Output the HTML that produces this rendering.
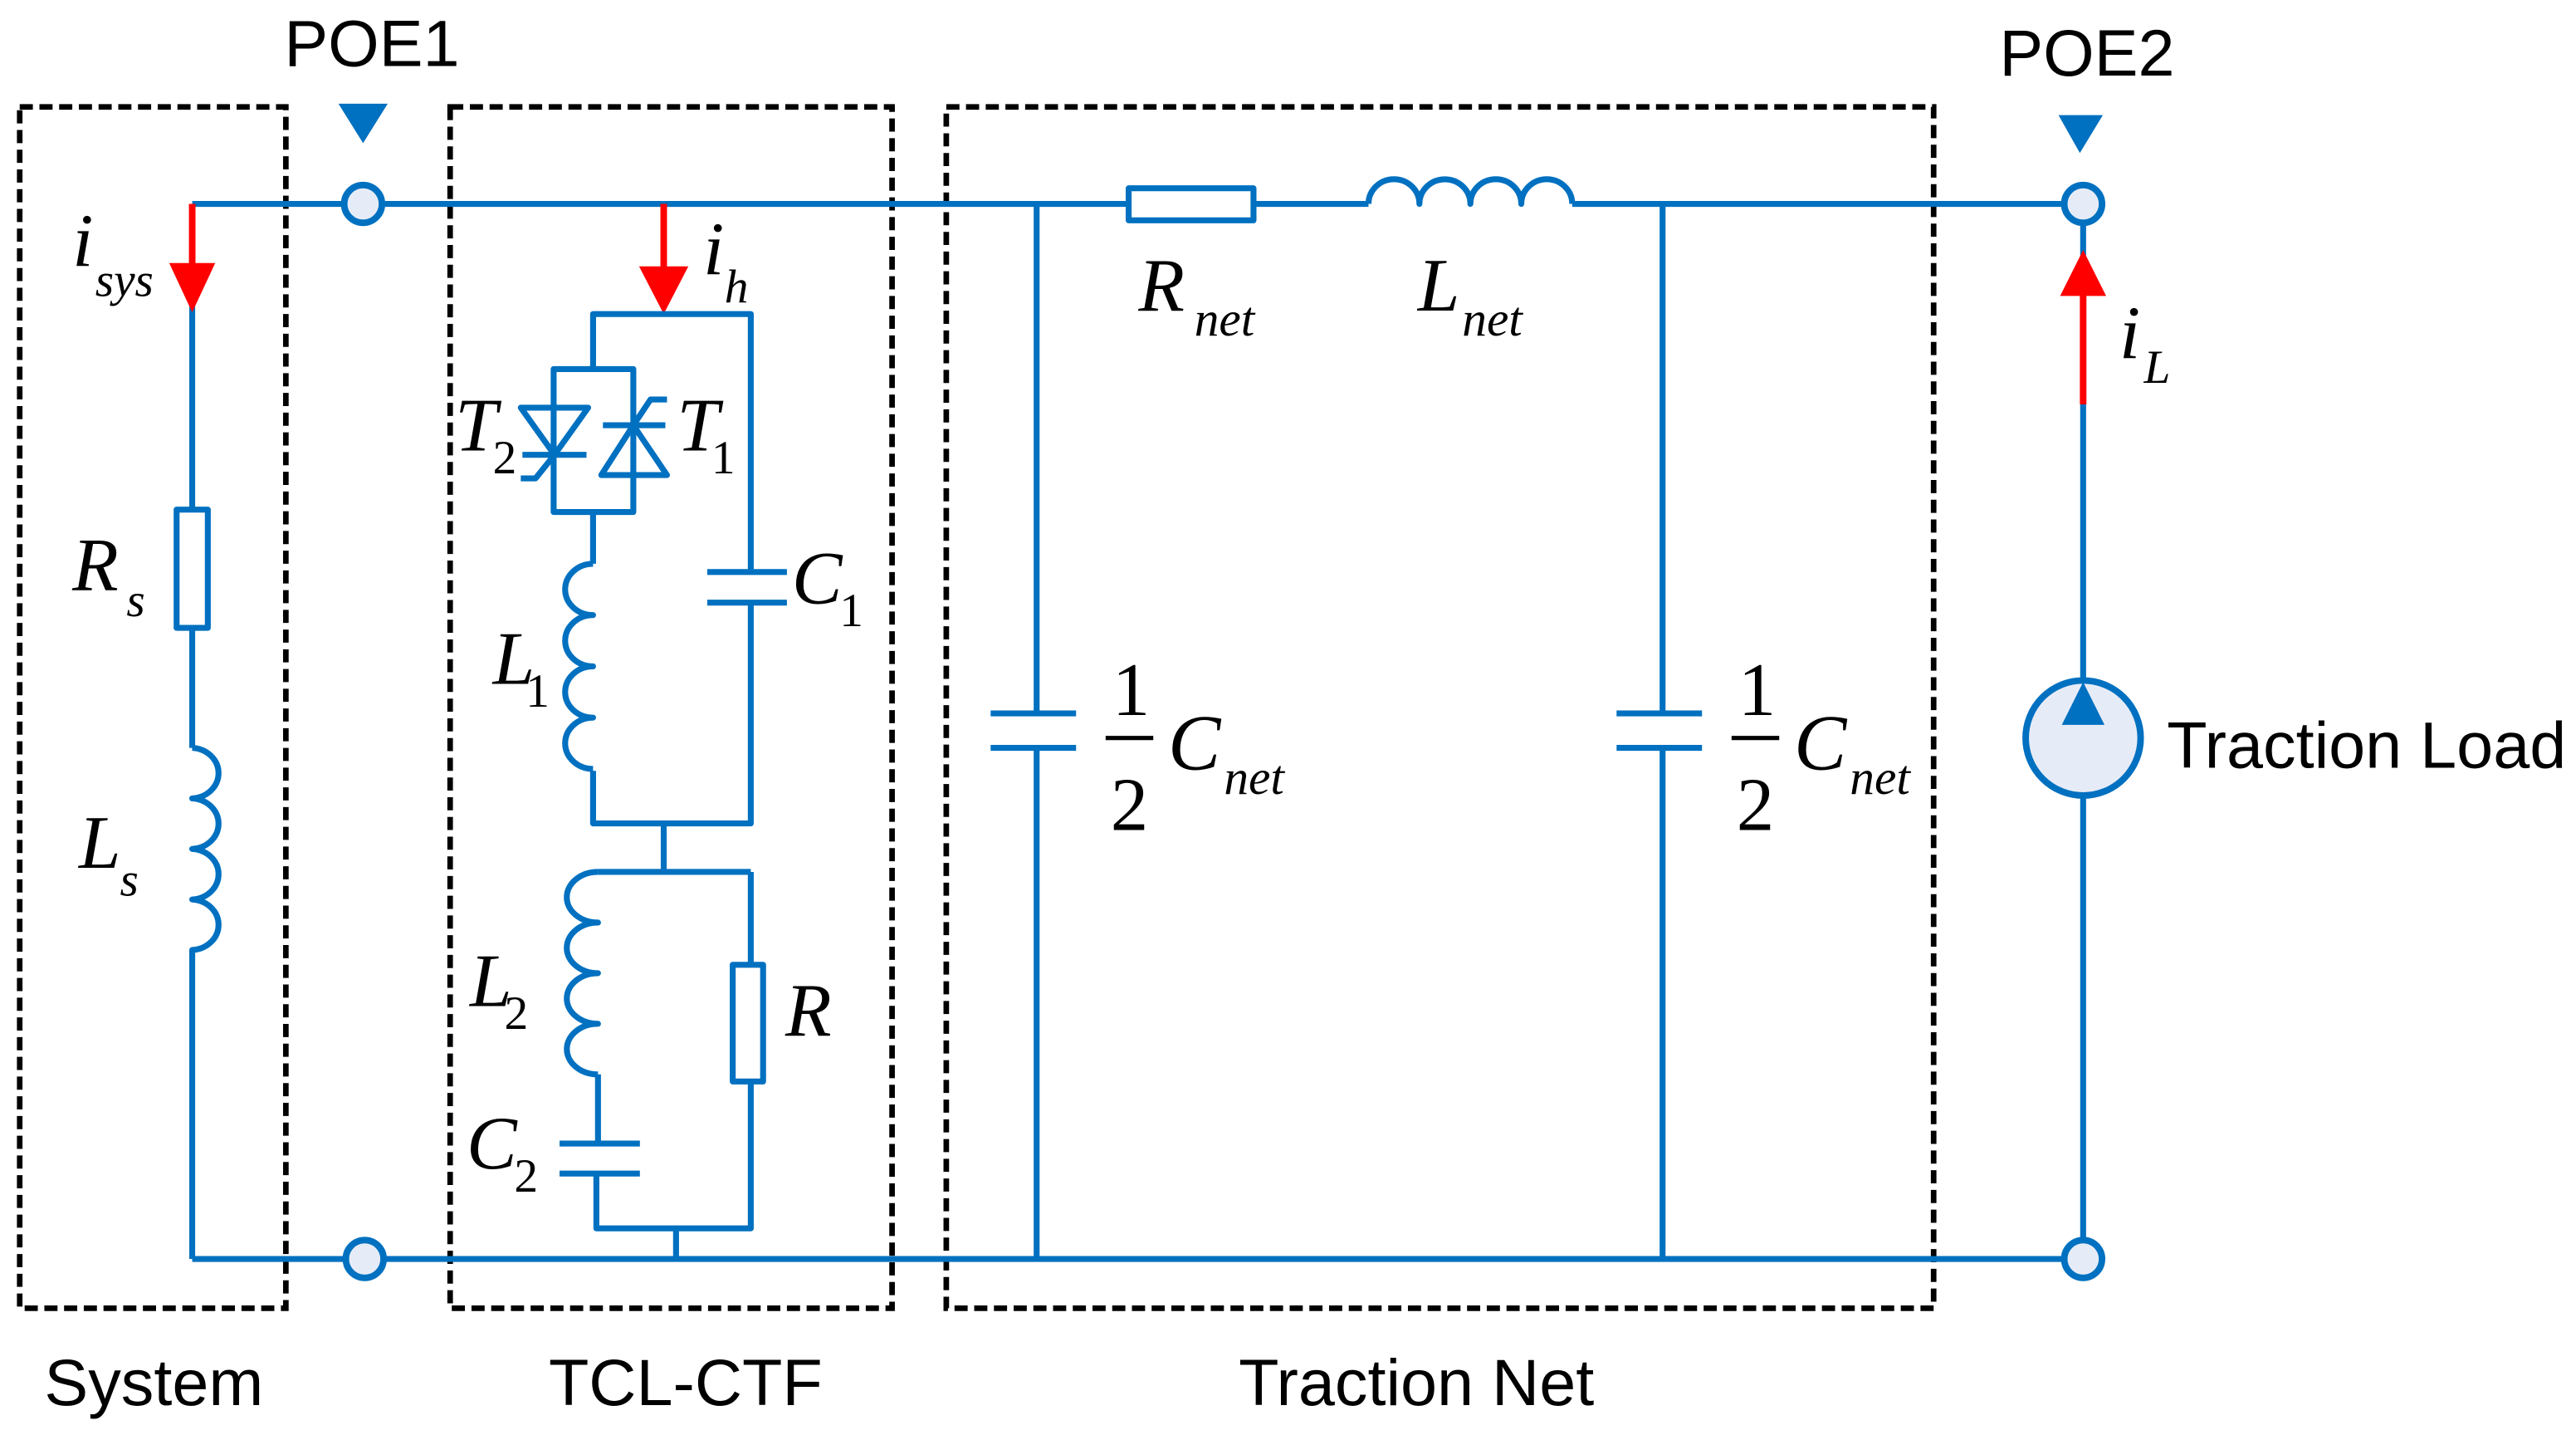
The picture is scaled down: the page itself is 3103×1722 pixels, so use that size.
<!DOCTYPE html>
<html><head><meta charset="utf-8"><style>
html,body{margin:0;padding:0;background:#fff}
svg{display:block}
.w{stroke:#0070C0;stroke-width:3.6;fill:none;stroke-linejoin:round}
.d{stroke:#000;stroke-width:3.4;fill:none;stroke-dasharray:8,4}
.it{font-family:"Liberation Serif",serif;font-style:italic;fill:#000}
.rm{font-family:"Liberation Serif",serif;fill:#000}
.sn{font-family:"Liberation Sans",sans-serif;fill:#000}
</style></head><body>
<svg width="3103" height="1722" viewBox="0 0 1568 870" xmlns="http://www.w3.org/2000/svg">
<rect class="d" x="12" y="65" width="162" height="731"/>
<rect class="d" x="274" y="65" width="269" height="731"/>
<rect class="d" x="576" y="65" width="601" height="731"/>

<path class="w" d="M117,124 H687 M763,124 H833 M957,124 H1268"/>
<path class="w" d="M117,766 H1268"/>

<path class="w" d="M117,124 V310 M117,382 V455"/>
<rect class="w" x="107.5" y="310" width="19" height="72"/>
<path class="w" d="M117,455 a17,15.4 0 0 1 0,30.75 a17,15.4 0 0 1 0,30.75 a17,15.4 0 0 1 0,30.75 a17,15.4 0 0 1 0,30.75 V766"/>
<path d="M117,124 V162" stroke="#FF0000" stroke-width="4" fill="none"/>
<polygon points="103,160 131,160 117,190" fill="#FF0000"/>

<circle cx="221" cy="124" r="11.5" fill="#E6ECF7" stroke="#0070C0" stroke-width="4"/>
<circle cx="222" cy="766" r="11.5" fill="#E6ECF7" stroke="#0070C0" stroke-width="4"/>
<polygon points="206,63 236,63 221,87" fill="#0070C0"/>
<circle cx="1268" cy="124" r="11.5" fill="#E6ECF7" stroke="#0070C0" stroke-width="4"/>
<circle cx="1268" cy="766" r="11.5" fill="#E6ECF7" stroke="#0070C0" stroke-width="4"/>
<polygon points="1253,70 1280,70 1266,93" fill="#0070C0"/>

<path d="M404,124 V165" stroke="#FF0000" stroke-width="4" fill="none"/>
<polygon points="389,162 419,162 404,191" fill="#FF0000"/>
<path class="w" d="M361,224 V191 H457 V348 M457,367 V501 H361 V469"/>
<path class="w" d="M337,311.5 V224.5 H385.5 V311.5 Z"/>
<path class="w" d="M361,311.5 V343"/>
<path class="w" d="M361,343 a17,15.6 0 0 0 0,31.2 a17,15.6 0 0 0 0,31.2 a17,15.6 0 0 0 0,31.2 a17,15.6 0 0 0 0,31.2"/>
<path class="w" d="M430.5,348 H479 M430.5,366.6 H479"/>
<path class="w" d="M317,248 H358 L337.5,276.7 Z M318,276.7 H357 M337.5,276.7 L326,291 H317"/>
<path class="w" d="M366,289 H406 L385.5,258.7 Z M367,258.7 H405 M385.5,258.7 L396,243 H406"/>
<path class="w" d="M404,501 V530.5 M457,530.5 H364 M457,530.5 V587 M457,658 V747.4 H363 V714 M364,695.8 V653.7"/>
<path class="w" d="M364,530.5 a19,15.4 0 0 0 0,30.8 a19,15.4 0 0 0 0,30.8 a19,15.4 0 0 0 0,30.8 a19,15.4 0 0 0 0,30.8"/>
<rect class="w" x="446" y="587" width="18.5" height="71"/>
<path class="w" d="M340.6,695.8 H389.5 M340.6,714 H389.5 M411.5,747.4 V766"/>

<rect class="w" x="687" y="114.5" width="76" height="19.5"/>
<path class="w" d="M833,124 a15.5,15 0 0 1 31,0 a15.5,15 0 0 1 31,0 a15.5,15 0 0 1 31,0 a15.5,15 0 0 1 31,0"/>
<path class="w" d="M631,124 V434 M631,455 V766 M603,434 H655 M603,455 H655"/>
<path class="w" d="M1012,124 V434 M1012,455 V766 M984,434 H1036 M984,455 H1036"/>

<path class="w" d="M1268,136 V754"/>
<path d="M1268,246 V175" stroke="#FF0000" stroke-width="4" fill="none"/>
<polygon points="1254,180 1282,180 1268,152" fill="#FF0000"/>
<circle cx="1268" cy="449" r="35" fill="#E6ECF7" stroke="#0070C0" stroke-width="4"/>
<polygon points="1255,441 1281,441 1268,415" fill="#0070C0"/>

<text class="sn" x="173" y="40" font-size="40">POE1</text>
<text class="sn" x="1217" y="46" font-size="40">POE2</text>
<text class="sn" x="27" y="855" font-size="40">System</text>
<text class="sn" x="334" y="855" font-size="40">TCL-CTF</text>
<text class="sn" x="754" y="855" font-size="40">Traction Net</text>
<text class="sn" x="1319" y="467" font-size="40">Traction Load</text>

<text class="it" x="44" y="162" font-size="46">i</text>
<text class="it" x="58" y="180" font-size="29">sys</text>
<text class="it" x="44" y="359" font-size="46">R</text>
<text class="it" x="77" y="375" font-size="29">s</text>
<text class="it" x="48" y="528" font-size="46">L</text>
<text class="it" x="73" y="545" font-size="29">s</text>

<text class="it" x="428" y="167" font-size="46">i</text>
<text class="it" x="441" y="184" font-size="29">h</text>
<text class="it" x="277" y="274" font-size="46">T</text>
<text class="rm" x="300" y="288" font-size="29">2</text>
<text class="it" x="412" y="274" font-size="46">T</text>
<text class="rm" x="433" y="288" font-size="29">1</text>
<text class="it" x="482" y="367" font-size="46">C</text>
<text class="rm" x="511" y="381" font-size="29">1</text>
<text class="it" x="300" y="416" font-size="46">L</text>
<text class="rm" x="320" y="430" font-size="29">1</text>
<text class="it" x="286" y="612" font-size="46">L</text>
<text class="rm" x="307" y="626" font-size="29">2</text>
<text class="it" x="478" y="630" font-size="46">R</text>
<text class="it" x="284" y="711" font-size="46">C</text>
<text class="rm" x="313" y="725" font-size="29">2</text>

<text class="it" x="693" y="189" font-size="46">R</text>
<text class="it" x="727" y="204" font-size="30">net</text>
<text class="it" x="863" y="189" font-size="46">L</text>
<text class="it" x="890" y="204" font-size="30">net</text>

<text class="rm" x="677" y="435" font-size="46">1</text>
<path d="M673,449 H702" stroke="#000" stroke-width="2.6"/>
<text class="rm" x="676" y="505" font-size="46">2</text>
<text class="it" x="711" y="468" font-size="48">C</text>
<text class="it" x="745" y="483" font-size="30">net</text>

<text class="rm" x="1058" y="435" font-size="46">1</text>
<path d="M1054,449 H1083" stroke="#000" stroke-width="2.6"/>
<text class="rm" x="1057" y="505" font-size="46">2</text>
<text class="it" x="1092" y="468" font-size="48">C</text>
<text class="it" x="1126" y="483" font-size="30">net</text>

<text class="it" x="1290" y="218" font-size="46">i</text>
<text class="it" x="1305" y="233" font-size="29">L</text>
</svg>
</body></html>
